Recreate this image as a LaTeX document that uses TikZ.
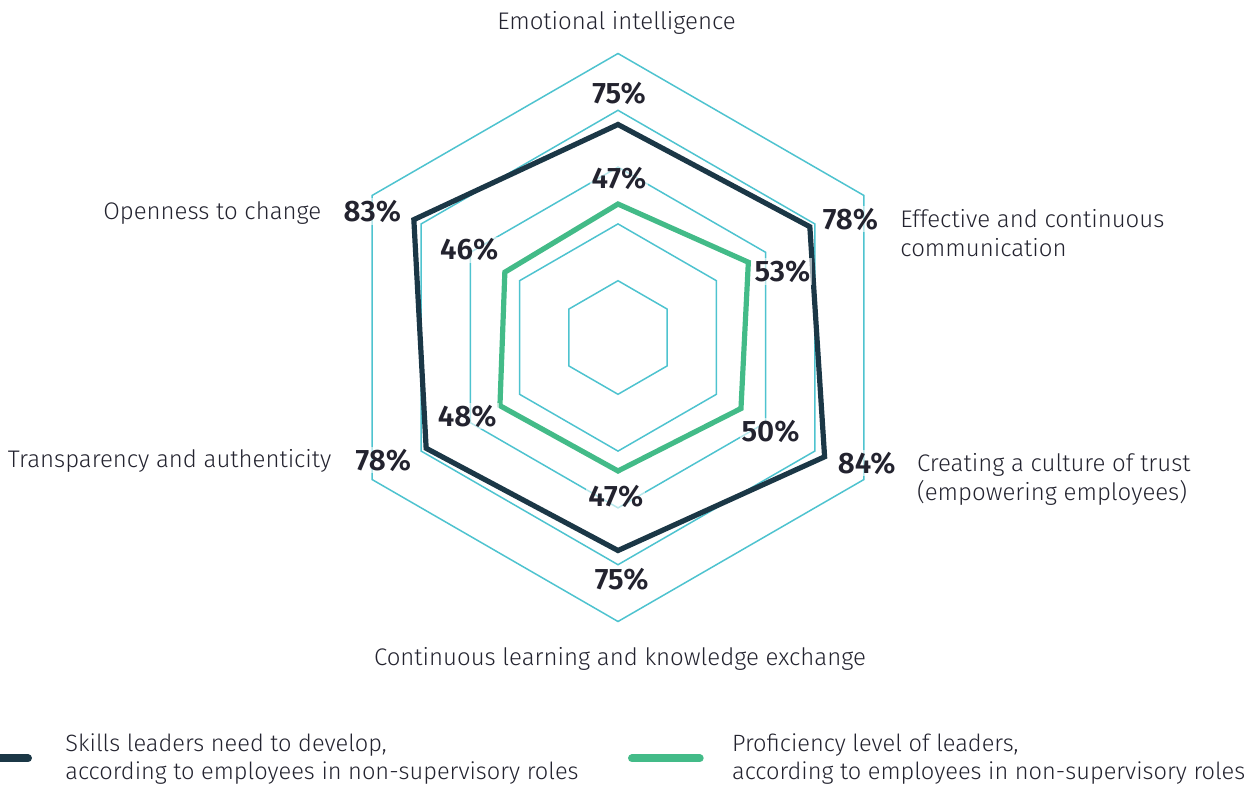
\documentclass[tikz,border=0pt]{standalone}
\usepackage{fontspec}
\setmainfont{Fira Sans Light}[BoldFont={Fira Sans SemiBold}]
\definecolor{ringc}{HTML}{4EC3CF}
\definecolor{skillc}{HTML}{1B3746}
\definecolor{profc}{HTML}{43BB88}
\definecolor{textc}{HTML}{23232F}
\tikzset{
  >=latex,
}
\tikzstyle{ring}=[ringc,line width=.75pt]
\tikzstyle{skills}=[skillc,line width=2.6pt]
\tikzstyle{prof}=[profc,line width=2.6pt]
\tikzstyle{key}=[line width=4pt,line cap=round]
\tikzstyle{pct}=[font=\bfseries\fontsize{14.8}{17}\selectfont,text=textc,anchor=base,fill=white,fill opacity=.6,text opacity=1,inner sep=1pt]
\tikzstyle{axis}=[font=\fontsize{12}{14.5}\selectfont,text=textc,inner sep=0pt,align=left]
\tikzstyle{legend}=[axis,anchor=base west,font=\fontsize{11.8}{13.75}\selectfont]
\newcommand{\R}{284}

\begin{document}
\begin{tikzpicture}[x=.5pt,y=.5pt]
    \useasboundingbox (-618,-449.5) rectangle (640,337.5);
    % grid rings
    \foreach \f in {0.2,0.4,0.6,0.8,1}
      \draw[ring] (90:\f*\R)--(30:\f*\R)--(-30:\f*\R)--(-90:\f*\R)--(-150:\f*\R)--(150:\f*\R)--cycle;
    % data
    \draw[prof] (90:.47*\R)--(30:.53*\R)--(-30:.50*\R)--(-90:.47*\R)--(-150:.48*\R)--(150:.46*\R)--cycle;
    \draw[skills] (90:.75*\R)--(30:.78*\R)--(-30:.84*\R)--(-90:.75*\R)--(-150:.78*\R)--(150:.83*\R)--cycle;
    % values
    \node[pct] (s1) at (1,233.5) {75\%};
    \node[pct] (s2) at (232.5,108.2) {78\%};
    \node[pct] (s3) at (248.7,-135.8) {84\%};
    \node[pct] (s4) at (3.7,-251.8) {75\%};
    \node[pct] (s5) at (-234.7,-132.5) {78\%};
    \node[pct] (s6) at (-245.7,115.8) {83\%};
    \node[pct] (p1) at (1,149.2) {47\%};
    \node[pct] (p2) at (164.4,55.8) {53\%};
    \node[pct] (p3) at (152.5,-103.5) {50\%};
    \node[pct] (p4) at (-2.2,-169.2) {47\%};
    \node[pct] (p5) at (-150.8,-88.5) {48\%};
    \node[pct] (p6) at (-148.8,77.5) {46\%};
    % axis labels
    \node[axis,anchor=base] (emo) at (-1.5,308.2) {Emotional intelligence};
    \node[axis,anchor=base west] (comm) at (282,80.8) {Effective and continuous\\communication};
    \node[axis,anchor=base west] (trust) at (298.7,-162.5) {Creating a culture of trust\\(empowering employees)};
    \node[axis,anchor=base] (learn) at (2,-327.5) {Continuous learning and knowledge exchange};
    \node[axis,anchor=base east] (transp) at (-286.3,-129.8) {Transparency and authenticity};
    \node[axis,anchor=base east] (open) at (-296.3,118.2) {Openness to change};
    % legend
    \draw[key,skillc] (-624,-420.8)--(-590,-420.8);
    \node[legend] (keys) at (-553,-441.5) {Skills leaders need to develop,\\according to employees in non-supervisory roles};
    \draw[key,profc] (14,-420.8)--(81.7,-420.8);
    \node[legend] (keyp) at (113.7,-441.5) {Proficiency level of leaders,\\according to employees in non-supervisory roles};
  \end{tikzpicture}
\end{document}
